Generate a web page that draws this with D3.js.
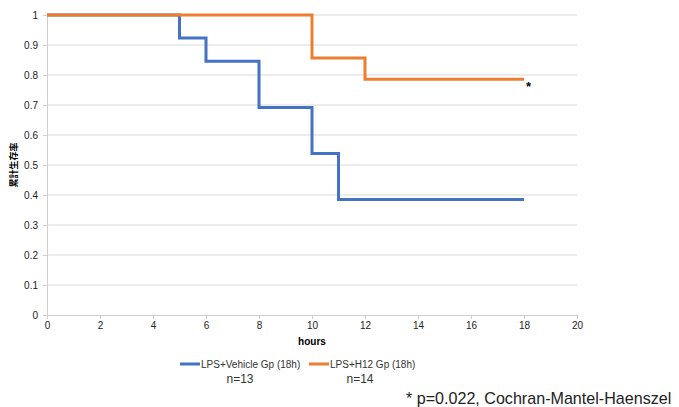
<!DOCTYPE html>
<html>
<head>
<meta charset="utf-8">
<script src="https://cdn.jsdelivr.net/npm/d3@7"></script>
<style>
  body { margin: 0; background: #fff; }
  svg { display: block; font-family: "Liberation Sans", Arial, sans-serif; }
  .grid line { stroke: #d9d9d9; }
  .axis text { font-size: 10px; fill: #222; }
</style>
</head>
<body>
<div id="chart-area"></div>
<script>
// survival curves (time in hours, cumulative survival)
const vehicleTimes = [0, 5, 6, 8, 10, 11, 18];
const vehicleSurv = [1, 0.923, 0.846, 0.692, 0.538, 0.385, 0.385];
const h12Times = [0, 10, 12, 18];
const h12Surv = [1, 0.857, 0.786, 0.786];

const seriesNames = ["LPS+Vehicle Gp (18h)", "LPS+H12 Gp (18h)"];
const seriesN = ["n=13", "n=14"];
const seriesColors = ["#4472C4", "#ED7D31"];

const xTicks = [0, 2, 4, 6, 8, 10, 12, 14, 16, 18, 20];
const yTicks = [0, 0.1, 0.2, 0.3, 0.4, 0.5, 0.6, 0.7, 0.8, 0.9, 1];

const drawChart = () => {
  const chartSize = { width: 679, height: 407 };
  const margin = { left: 47, top: 15 };
  const width = 530;
  const height = 300;

  const svg = d3.select("#chart-area")
    .append("svg")
    .attr("width", chartSize.width)
    .attr("height", chartSize.height);

  const g = svg.append("g")
    .attr("transform", `translate(${margin.left}, ${margin.top})`);

  const x = d3.scaleLinear().domain([0, 20]).range([0, width]);
  const y = d3.scaleLinear().domain([0, 1]).range([height, 0]);

  // horizontal gridlines
  g.append("g")
    .attr("class", "grid")
    .selectAll("line")
    .data(yTicks.filter(d => d > 0))
    .enter()
    .append("line")
    .attr("x1", 0)
    .attr("x2", width)
    .attr("y1", d => y(d))
    .attr("y2", d => y(d));

  const yAxis = d3.axisLeft(y).tickValues(yTicks).tickSize(4).tickFormat(d3.format("~g"));
  const yg = g.append("g").attr("class", "axis").call(yAxis);
  yg.select(".domain").attr("stroke", "#d0d0d0");
  yg.selectAll(".tick line").attr("stroke", "#d0d0d0");
  yg.selectAll("text").attr("x", -9);

  const xAxis = d3.axisBottom(x).tickValues(xTicks).tickSize(4);
  const xg = g.append("g")
    .attr("class", "axis")
    .attr("transform", `translate(0, ${height})`)
    .call(xAxis);
  xg.select(".domain").attr("stroke", "#d0d0d0");
  xg.selectAll(".tick line").attr("stroke", "#d0d0d0");
  xg.selectAll("text").attr("y", 7);

  // axis labels
  g.append("text")
    .text("hours")
    .attr("x", x(10))
    .attr("y", height + 30)
    .attr("text-anchor", "middle")
    .attr("font-size", 10)
    .attr("font-weight", "bold");

  g.append("text")
    .text("累計生存率")
    .attr("transform", "rotate(-90)")
    .attr("x", -height / 2)
    .attr("y", -30)
    .attr("text-anchor", "middle")
    .attr("font-family", "Noto Sans CJK JP")
    .attr("font-size", 9)
    .attr("font-weight", "bold");

  const line = d3.line()
    .x(d => x(d[0]))
    .y(d => y(d[1]))
    .curve(d3.curveStepAfter);

  const series = [
    d3.zip(vehicleTimes, vehicleSurv),
    d3.zip(h12Times, h12Surv),
  ];

  g.selectAll(".curve")
    .data(series)
    .enter()
    .append("path")
    .attr("class", "curve")
    .attr("d", line)
    .attr("fill", "none")
    .attr("stroke", (d, i) => seriesColors[i])
    .attr("stroke-width", 3);

  // significance marker
  g.append("text")
    .text("*")
    .attr("x", x(18) + 2)
    .attr("y", y(h12Surv[h12Surv.length - 1]) + 12)
    .attr("font-size", 13)
    .attr("font-weight", "bold");

  // legend
  const legendX = [180, 309];
  const nX = [240, 360];
  const legend = svg.selectAll(".legend")
    .data(seriesNames)
    .enter()
    .append("g")
    .attr("class", "legend");

  legend.append("line")
    .attr("x1", (d, i) => legendX[i])
    .attr("x2", (d, i) => legendX[i] + 20)
    .attr("y1", 364)
    .attr("y2", 364)
    .attr("stroke", (d, i) => seriesColors[i])
    .attr("stroke-width", 3);

  legend.append("text")
    .text(d => d)
    .attr("x", (d, i) => legendX[i] + 21)
    .attr("y", 368)
    .attr("font-size", 10)
    .attr("fill", "#333");

  legend.append("text")
    .text((d, i) => seriesN[i])
    .attr("x", (d, i) => nX[i])
    .attr("y", 383)
    .attr("text-anchor", "middle")
    .attr("font-size", 12)
    .attr("fill", "#333");

  svg.append("text")
    .text("* p=0.022, Cochran-Mantel-Haenszel")
    .attr("x", 406)
    .attr("y", 404)
    .attr("font-size", 16.1)
    .attr("fill", "#222");
};

window.onload = drawChart;
</script>
</body>
</html>
